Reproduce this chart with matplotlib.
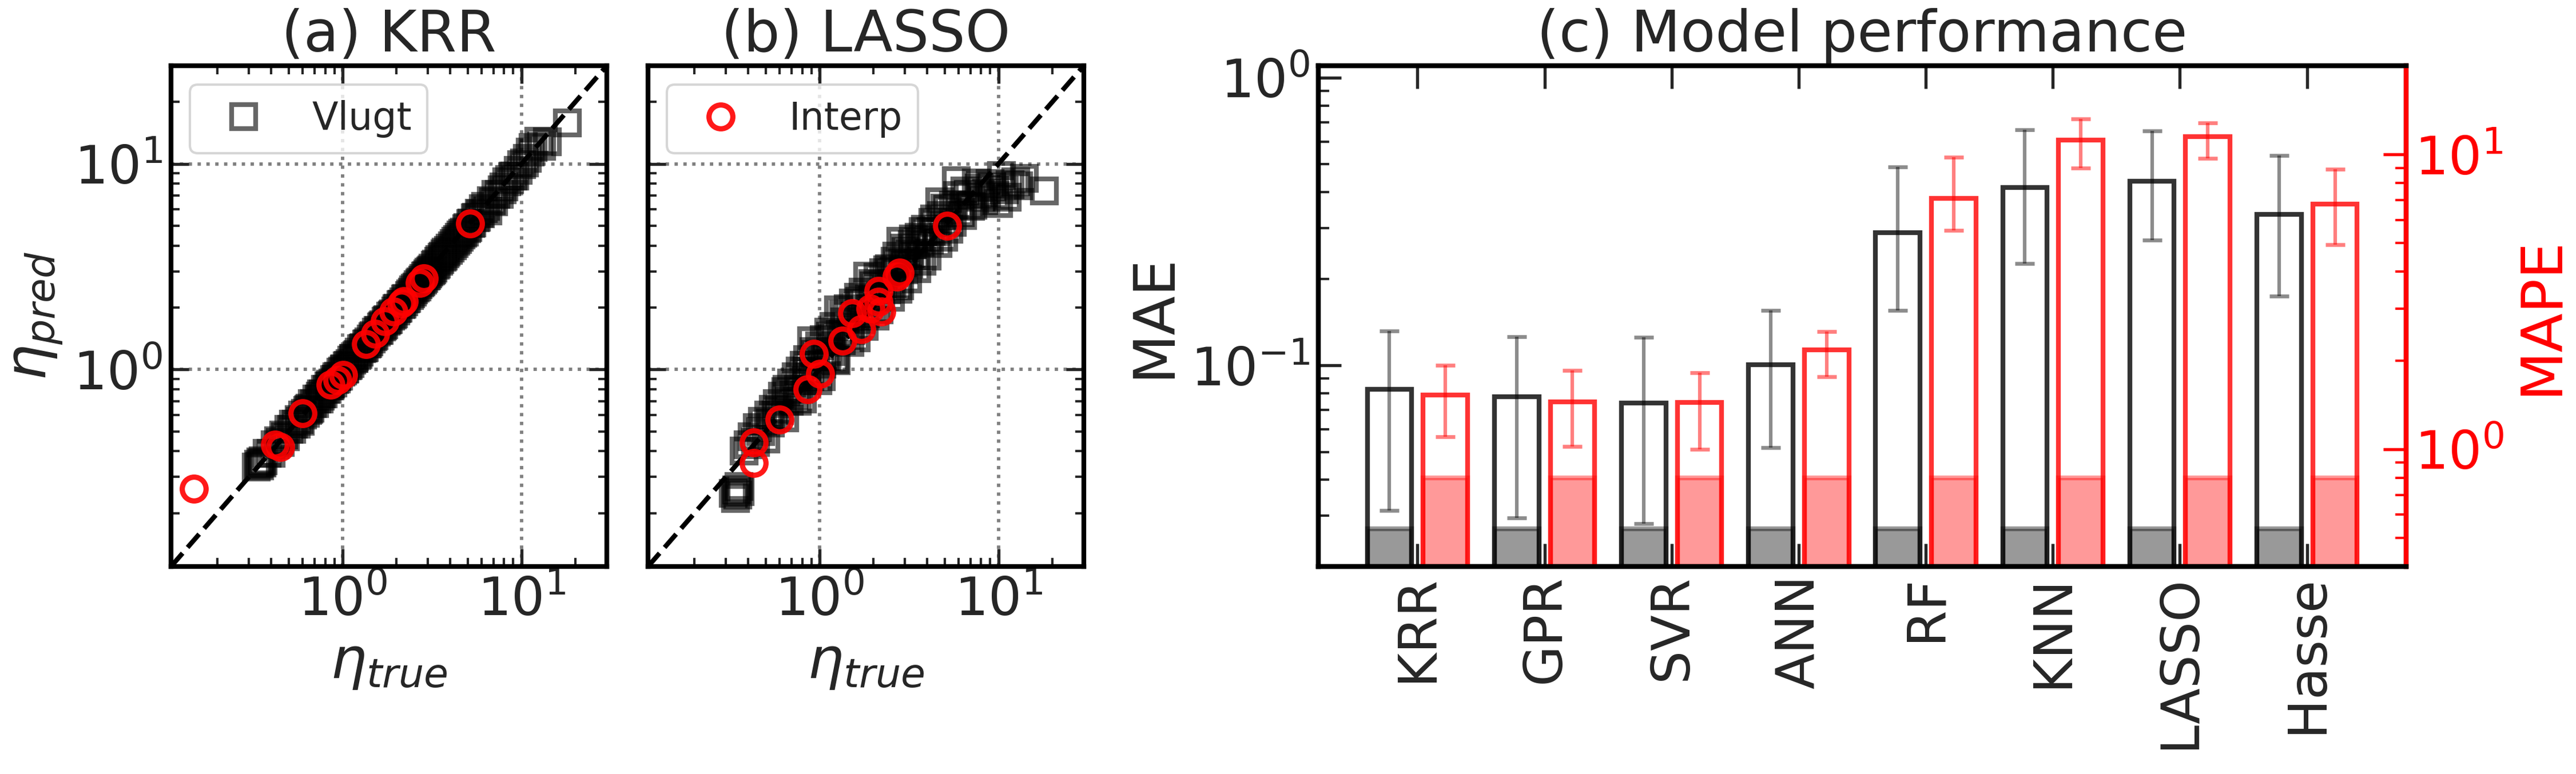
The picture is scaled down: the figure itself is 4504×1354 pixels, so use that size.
import numpy as np
import matplotlib
matplotlib.use('Agg')
import matplotlib.pyplot as plt

# parity data
vlugt_true = [0.33, 0.34, 0.345, 0.35, 0.355, 0.36, 0.38, 0.40, 0.42, 0.44,
              0.45, 0.47, 0.48, 0.50, 0.52, 0.53, 0.55, 0.57, 0.58, 0.60,
              0.62, 0.64, 0.66, 0.68, 0.70, 0.72, 0.74, 0.76, 0.78, 0.80,
              0.82, 0.84, 0.86, 0.88, 0.90, 0.92, 0.95, 0.98, 1.00, 1.03,
              1.06, 1.10, 1.13, 1.16, 1.20, 1.24, 1.28, 1.32, 1.36, 1.40,
              1.45, 1.50, 1.55, 1.60, 1.65, 1.70, 1.75, 1.80, 1.86, 1.92,
              1.98, 2.05, 2.12, 2.20, 2.28, 2.36, 2.45, 2.55, 2.65, 2.75,
              2.85, 2.95, 3.05, 3.15, 3.30, 3.45, 3.60, 3.75, 3.90, 4.10,
              4.30, 4.50, 4.70, 4.95, 5.20, 5.50, 5.80, 6.10, 6.50, 7.00,
              7.50, 8.00, 8.60, 9.20, 10.0, 10.8, 11.6, 12.5, 14.0, 18.0,
              0.65, 0.75, 0.85, 0.93, 1.02, 1.08, 1.15, 1.22, 1.30, 1.38,
              1.48, 1.58, 1.68, 1.78, 1.90, 2.02, 2.15, 2.25, 2.40, 2.50,
              2.60, 2.70, 2.80, 2.90, 3.00, 3.10, 3.20, 3.35, 3.50, 3.65,
              3.80, 4.00, 4.20, 4.40, 4.60, 4.80, 5.00, 5.30, 5.60, 5.90,
              6.30, 6.80, 7.20, 7.80, 8.30, 9.00, 9.60, 10.4, 11.2, 13.0]
vlugt_krr = [0.335, 0.345, 0.34, 0.355, 0.35, 0.36, 0.39, 0.39, 0.43, 0.45,
             0.44, 0.48, 0.47, 0.51, 0.51, 0.54, 0.54, 0.57, 0.56, 0.60,
             0.61, 0.63, 0.65, 0.68, 0.68, 0.72, 0.72, 0.76, 0.76, 0.80,
             0.80, 0.83, 0.85, 0.86, 0.89, 0.90, 0.93, 0.97, 0.98, 1.01,
             1.04, 1.07, 1.11, 1.13, 1.17, 1.21, 1.26, 1.28, 1.33, 1.36,
             1.41, 1.46, 1.52, 1.55, 1.61, 1.65, 1.71, 1.75, 1.82, 1.86,
             1.93, 1.99, 2.07, 2.13, 2.22, 2.29, 2.38, 2.48, 2.58, 2.67,
             2.78, 2.87, 2.97, 3.06, 3.21, 3.36, 3.51, 3.65, 3.80, 4.00,
             4.20, 4.40, 4.60, 4.85, 5.12, 5.45, 5.75, 6.05, 5.90, 6.55,
             7.10, 7.70, 8.40, 8.70, 9.90, 10.6, 12.0, 12.9, 12.8, 15.8,
             0.64, 0.74, 0.83, 0.92, 1.00, 1.05, 1.13, 1.18, 1.27, 1.34,
             1.44, 1.55, 1.63, 1.74, 1.84, 1.97, 2.08, 2.20, 2.33, 2.44,
             2.52, 2.64, 2.72, 2.84, 2.91, 3.02, 3.12, 3.25, 3.42, 3.55,
             3.72, 3.88, 4.10, 4.28, 4.50, 4.66, 4.90, 5.15, 5.50, 5.70,
             6.20, 6.60, 7.10, 7.50, 8.20, 8.70, 9.30, 10.1, 11.4, 12.2]
vlugt_lasso = [0.25, 0.235, 0.26, 0.245, 0.27, 0.255, 0.40, 0.43, 0.47, 0.44,
               0.52, 0.50, 0.56, 0.46, 0.60, 0.55, 0.64, 0.60, 0.68, 0.63,
               0.74, 0.58, 0.80, 0.70, 0.86, 0.75, 0.92, 0.80, 0.98, 0.72,
               1.05, 0.88, 1.12, 0.92, 1.38, 0.97, 1.18, 0.88, 1.30, 1.06,
               1.40, 1.15, 1.52, 1.22, 1.62, 1.10, 1.95, 1.38, 1.85, 1.46,
               1.98, 1.55, 2.10, 1.42, 2.25, 1.75, 2.38, 1.86, 2.85, 1.98,
               2.62, 1.82, 2.80, 2.28, 2.95, 2.44, 3.10, 2.62, 3.35, 2.45,
               4.20, 3.05, 3.75, 3.25, 4.05, 3.55, 4.40, 3.35, 4.80, 4.25,
               5.20, 4.70, 6.55, 4.40, 6.00, 5.20, 8.30, 5.80, 7.40, 6.20,
               8.10, 6.90, 7.20, 7.70, 6.40, 7.50, 7.90, 8.20, 8.50, 7.40,
               0.78, 0.70, 0.98, 1.22, 0.92, 1.16, 1.45, 1.12, 1.48, 1.70,
               1.35, 1.82, 2.15, 1.62, 2.20, 2.55, 1.95, 2.60, 3.05, 2.25,
               3.00, 3.55, 2.55, 3.30, 3.90, 2.75, 3.65, 4.30, 3.10, 4.15,
               4.70, 3.55, 4.70, 5.40, 4.10, 5.60, 6.10, 4.80, 6.30, 7.00,
               5.60, 7.10, 6.30, 7.60, 6.60, 8.00, 7.00, 8.80, 6.90, 7.80]

interp_true_krr = [0.148, 0.42, 0.45, 0.60, 0.86, 0.94, 1.01, 1.35, 1.52,
                   1.73, 1.92, 2.14, 2.20, 2.70, 2.85, 5.15]
interp_krr = [0.262, 0.43, 0.42, 0.61, 0.845, 0.885, 0.94, 1.33, 1.49,
              1.72, 1.91, 2.09, 2.15, 2.64, 2.78, 5.11]
interp_true_lasso = [0.43, 0.43, 0.60, 0.86, 1.01, 0.93, 1.34, 1.71, 1.52,
                     1.92, 2.22, 2.14, 2.14, 2.70, 2.80, 5.17]
interp_lasso = [0.35, 0.44, 0.57, 0.80, 0.95, 1.19, 1.38, 1.57, 1.88,
                1.98, 1.91, 2.13, 2.41, 2.83, 2.95, 4.98]

# model comparison
models = ['KRR', 'GPR', 'SVR', 'ANN', 'RF', 'KNN', 'LASSO', 'Hasse']
mae = [0.0825, 0.0778, 0.0740, 0.1005, 0.289, 0.416, 0.437, 0.335]
mae_lo = [0.0313, 0.0295, 0.0282, 0.0518, 0.155, 0.2255, 0.273, 0.174]
mae_hi = [0.1315, 0.1256, 0.125, 0.1556, 0.490, 0.660, 0.654, 0.537]
mape = [1.53, 1.45, 1.44, 2.17, 7.1, 11.2, 11.5, 6.8]
mape_lo = [1.10, 1.02, 1.00, 1.76, 5.53, 9.0, 9.7, 4.94]
mape_hi = [1.93, 1.85, 1.82, 2.51, 9.8, 13.2, 12.8, 8.9]
mae_base = [0.027, 0.027, 0.027, 0.027, 0.027, 0.027, 0.027, 0.027]
mape_base = [0.8, 0.8, 0.8, 0.8, 0.8, 0.8, 0.8, 0.8]

plt.rcParams.update({
    'font.family': 'DejaVu Sans',
    'text.color': '.15',
    'axes.labelcolor': '.15',
    'xtick.color': '.15',
    'ytick.color': '.15',
    'axes.edgecolor': 'k',
    'axes.linewidth': 2,
})

W, H = 4504, 1354
fig = plt.figure(figsize=(W / 300, H / 300), dpi=300)


def box(x0, x1, y0=115, y1=991):
    return [x0 / W, 1 - y1 / H, (x1 - x0) / W, (y1 - y0) / H]


def parity(ax, title, pred, t_int, p_int, which):
    sq, = ax.plot(vlugt_true, pred, 's', ms=10, mfc='none', mec='k', mew=2,
                  alpha=0.6, label='Vlugt', zorder=2)
    ax.plot([0, 1], [0, 1], 'k--', lw=2, transform=ax.transAxes, zorder=3)
    ci, = ax.plot(t_int, p_int, 'o', ms=10, mfc='none', mec='r', mew=2.2,
                  alpha=0.9, label='Interp', zorder=4)
    ax.set_xscale('log')
    ax.set_yscale('log')
    ax.set_xlim(0.11, 30)
    ax.set_ylim(0.11, 30)
    ax.grid(True, which='major', ls=':', lw=1.4, color='gray')
    ax.tick_params(which='both', direction='in', top=True, right=True,
                   labelsize=22)
    ax.tick_params(which='major', length=7.5, width=1.3)
    ax.tick_params(which='minor', length=3.5, width=1.0)
    ax.set_title(title, fontsize=24)
    ax.set_xlabel(r'$\eta_{true}$', fontsize=24)
    ax.legend(handles=[sq if which == 'sq' else ci], loc='upper left',
              fontsize=16)


ax_a = fig.add_axes(box(299, 1061))
parity(ax_a, '(a) KRR', vlugt_krr, interp_true_krr, interp_krr, 'sq')
ax_a.set_ylabel(r'$\eta_{pred}$', fontsize=24)

ax_b = fig.add_axes(box(1133, 1895))
parity(ax_b, '(b) LASSO', vlugt_lasso, interp_true_lasso, interp_lasso, 'ci')
ax_b.tick_params(labelleft=False)

# (c) bar chart, MAE left / MAPE right
ax = fig.add_axes(box(2305, 4207))
ax2 = ax.twinx()
x = np.arange(len(models))
w, off = 0.35, 0.22
mae_a, mape_a = np.array(mae), np.array(mape)

ax.set_yscale('log')
ax.bar(x - off, mae_base, w, bottom=1e-4, color='k', edgecolor='k', lw=2, alpha=0.4)
ax.bar(x - off, mae, w, bottom=1e-4, fill=False, edgecolor='k', lw=2, alpha=0.8)
ax.errorbar(x - off, mae, yerr=[mae_a - mae_lo, np.array(mae_hi) - mae_a],
            fmt='none', ecolor='k', alpha=0.45, elinewidth=1.5, capsize=4,
            capthick=1.6)
ax.set_ylim(0.02, 1.1)
ax.set_xlim(-0.78, 7.78)
ax.set_xticks(x)
ax.set_xticklabels(models, rotation=90)
ax.set_ylabel('MAE', fontsize=24)
ax.set_title('(c) Model performance', fontsize=24)
ax.tick_params(which='both', direction='in', top=True, labelsize=22)
ax.tick_params(which='major', length=9.5, width=1.3)
ax.tick_params(which='minor', length=4.5, width=1.0)
ax.tick_params(axis='x', which='minor', top=False, bottom=False)

ax2.set_yscale('log')
ax2.bar(x + off, mape_base, w, bottom=1e-4, color='r', edgecolor='r', lw=2, alpha=0.4)
ax2.bar(x + off, mape, w, bottom=1e-4, fill=False, edgecolor='r', lw=2, alpha=0.8)
ax2.errorbar(x + off, mape, yerr=[mape_a - mape_lo, np.array(mape_hi) - mape_a],
             fmt='none', ecolor='r', alpha=0.5, elinewidth=1.5, capsize=4,
             capthick=1.6)
ax2.set_ylim(0.4, 20)
ax2.set_ylabel('MAPE', fontsize=24, color='r')
ax2.spines['right'].set_color('r')
ax2.tick_params(which='both', direction='in', colors='r', labelsize=22)
ax2.tick_params(which='major', length=9.5, width=1.3)
ax2.tick_params(which='minor', length=4.5, width=1.0)

fig.savefig('out.png', dpi=300)
